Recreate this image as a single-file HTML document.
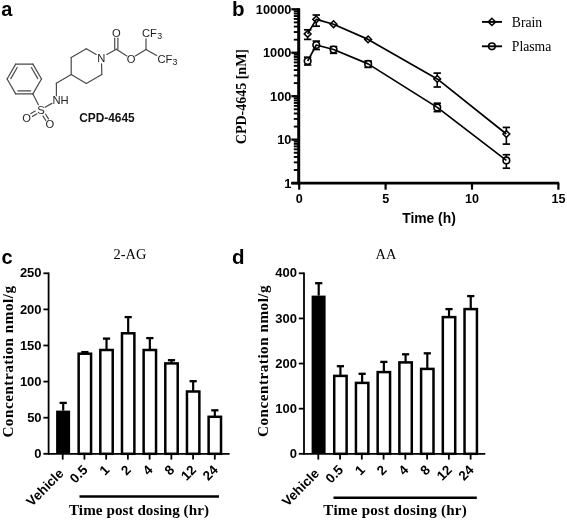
<!DOCTYPE html>
<html lang="en">
<head>
<meta charset="utf-8">
<title>CPD-4645 figure</title>
<style>
html,body{margin:0;padding:0;background:#fff;}
body{width:567px;height:521px;overflow:hidden;}
svg{display:block;filter:blur(0.45px);}
.sa{font-family:"Liberation Sans",Arial,sans-serif;}
.se{font-family:"Liberation Serif","Times New Roman",serif;}
.b{font-weight:bold;}
.r{font-weight:normal;}
</style>
</head>
<body>
<svg width="567" height="521" viewBox="0 0 567 521">
<rect x="0" y="0" width="567" height="521" fill="#fff"/>

<text x="1.2" y="16.4" class="sa b" font-size="20" text-anchor="start" fill="#000" >a</text>
<text x="232.0" y="16.0" class="sa b" font-size="20.5" text-anchor="start" fill="#000" >b</text>
<text x="1.6" y="264.0" class="sa b" font-size="20" text-anchor="start" fill="#000" >c</text>
<text x="232.0" y="264.0" class="sa b" font-size="20.5" text-anchor="start" fill="#000" >d</text>
<g id="panel-a">
<line x1="7.10" y1="79.00" x2="15.70" y2="64.10" stroke="#4a4a4a" stroke-width="1.2" stroke-linecap="round"/>
<line x1="15.70" y1="64.10" x2="32.90" y2="64.10" stroke="#4a4a4a" stroke-width="1.2" stroke-linecap="round"/>
<line x1="32.90" y1="64.10" x2="41.50" y2="79.00" stroke="#4a4a4a" stroke-width="1.2" stroke-linecap="round"/>
<line x1="41.50" y1="79.00" x2="32.90" y2="93.90" stroke="#4a4a4a" stroke-width="1.2" stroke-linecap="round"/>
<line x1="32.90" y1="93.90" x2="15.70" y2="93.90" stroke="#4a4a4a" stroke-width="1.2" stroke-linecap="round"/>
<line x1="15.70" y1="93.90" x2="7.10" y2="79.00" stroke="#4a4a4a" stroke-width="1.2" stroke-linecap="round"/>
<line x1="10.80" y1="78.59" x2="17.20" y2="67.51" stroke="#4a4a4a" stroke-width="1.2" stroke-linecap="round"/>
<line x1="31.40" y1="67.51" x2="37.80" y2="78.59" stroke="#4a4a4a" stroke-width="1.2" stroke-linecap="round"/>
<line x1="30.70" y1="90.90" x2="17.90" y2="90.90" stroke="#4a4a4a" stroke-width="1.2" stroke-linecap="round"/>
<line x1="32.90" y1="93.90" x2="38.40" y2="104.70" stroke="#4a4a4a" stroke-width="1.2" stroke-linecap="round"/>
<line x1="45.07" y1="107.23" x2="51.88" y2="103.37" stroke="#4a4a4a" stroke-width="1.2" stroke-linecap="round"/>
<line x1="36.87" y1="113.80" x2="32.49" y2="116.36" stroke="#4a4a4a" stroke-width="1.2" stroke-linecap="round"/>
<line x1="35.26" y1="111.04" x2="30.88" y2="113.59" stroke="#4a4a4a" stroke-width="1.2" stroke-linecap="round"/>
<line x1="45.62" y1="114.21" x2="48.48" y2="118.85" stroke="#4a4a4a" stroke-width="1.2" stroke-linecap="round"/>
<line x1="42.90" y1="115.89" x2="45.76" y2="120.53" stroke="#4a4a4a" stroke-width="1.2" stroke-linecap="round"/>
<line x1="56.40" y1="95.80" x2="56.40" y2="83.20" stroke="#4a4a4a" stroke-width="1.2" stroke-linecap="round"/>
<line x1="56.40" y1="83.20" x2="71.20" y2="74.60" stroke="#4a4a4a" stroke-width="1.2" stroke-linecap="round"/>
<line x1="71.20" y1="74.60" x2="71.20" y2="57.50" stroke="#4a4a4a" stroke-width="1.2" stroke-linecap="round"/>
<line x1="71.20" y1="57.50" x2="86.30" y2="48.70" stroke="#4a4a4a" stroke-width="1.2" stroke-linecap="round"/>
<line x1="86.30" y1="48.70" x2="96.22" y2="54.48" stroke="#4a4a4a" stroke-width="1.2" stroke-linecap="round"/>
<line x1="101.55" y1="63.90" x2="101.80" y2="74.60" stroke="#4a4a4a" stroke-width="1.2" stroke-linecap="round"/>
<line x1="101.80" y1="74.60" x2="86.30" y2="83.40" stroke="#4a4a4a" stroke-width="1.2" stroke-linecap="round"/>
<line x1="86.30" y1="83.40" x2="71.20" y2="74.60" stroke="#4a4a4a" stroke-width="1.2" stroke-linecap="round"/>
<line x1="106.82" y1="54.48" x2="116.30" y2="49.20" stroke="#4a4a4a" stroke-width="1.2" stroke-linecap="round"/>
<line x1="114.70" y1="49.20" x2="114.70" y2="38.20" stroke="#4a4a4a" stroke-width="1.2" stroke-linecap="round"/>
<line x1="117.90" y1="49.20" x2="117.90" y2="38.20" stroke="#4a4a4a" stroke-width="1.2" stroke-linecap="round"/>
<line x1="116.30" y1="49.20" x2="126.88" y2="55.92" stroke="#4a4a4a" stroke-width="1.2" stroke-linecap="round"/>
<line x1="135.35" y1="55.97" x2="146.00" y2="49.40" stroke="#4a4a4a" stroke-width="1.2" stroke-linecap="round"/>
<line x1="146.00" y1="49.40" x2="146.00" y2="38.80" stroke="#4a4a4a" stroke-width="1.2" stroke-linecap="round"/>
<line x1="146.00" y1="49.40" x2="156.60" y2="55.50" stroke="#4a4a4a" stroke-width="1.2" stroke-linecap="round"/>
<text x="40.9" y="113.6" class="sa r" font-size="11.2" text-anchor="middle" fill="#222" >S</text>
<text x="52.5" y="104.39999999999999" class="sa r" font-size="11.2" text-anchor="start" fill="#222" >NH</text>
<text x="26.5" y="122.0" class="sa r" font-size="11.2" text-anchor="middle" fill="#222" >O</text>
<text x="49.9" y="128.2" class="sa r" font-size="11.2" text-anchor="middle" fill="#222" >O</text>
<text x="101.4" y="61.5" class="sa r" font-size="11.2" text-anchor="middle" fill="#222" >N</text>
<text x="116.3" y="36.6" class="sa r" font-size="11.2" text-anchor="middle" fill="#222" >O</text>
<text x="131.1" y="62.6" class="sa r" font-size="11.2" text-anchor="middle" fill="#222" >O</text>
<text x="142.0" y="37.1" class="sa r" font-size="11.2" fill="#222">CF<tspan font-size="8.8" dx="0.3" dy="2.2">3</tspan></text>
<text x="157.4" y="62.5" class="sa r" font-size="11.2" fill="#222">CF<tspan font-size="8.8" dx="0.3" dy="2.2">3</tspan></text>
<text x="79.2" y="122.4" class="sa b" font-size="11.9" text-anchor="start" fill="#111" >CPD-4645</text>
</g>
<g id="panel-b">
<line x1="298.70" y1="8.20" x2="298.70" y2="184.45" stroke="#000" stroke-width="3.0" stroke-linecap="butt"/>
<line x1="291.30" y1="183.10" x2="559.20" y2="183.10" stroke="#000" stroke-width="2.7" stroke-linecap="butt"/>
<line x1="291.30" y1="183.10" x2="299.00" y2="183.10" stroke="#000" stroke-width="2.3" stroke-linecap="butt"/>
<text x="291.4" y="187.5" class="sa b" font-size="12.8" text-anchor="end" fill="#000" >1</text>
<line x1="293.80" y1="170.02" x2="299.00" y2="170.02" stroke="#000" stroke-width="1.9" stroke-linecap="butt"/>
<line x1="293.80" y1="162.37" x2="299.00" y2="162.37" stroke="#000" stroke-width="1.9" stroke-linecap="butt"/>
<line x1="293.80" y1="156.94" x2="299.00" y2="156.94" stroke="#000" stroke-width="1.9" stroke-linecap="butt"/>
<line x1="293.80" y1="152.73" x2="299.00" y2="152.73" stroke="#000" stroke-width="1.9" stroke-linecap="butt"/>
<line x1="293.80" y1="149.29" x2="299.00" y2="149.29" stroke="#000" stroke-width="1.9" stroke-linecap="butt"/>
<line x1="293.80" y1="146.38" x2="299.00" y2="146.38" stroke="#000" stroke-width="1.9" stroke-linecap="butt"/>
<line x1="293.80" y1="143.86" x2="299.00" y2="143.86" stroke="#000" stroke-width="1.9" stroke-linecap="butt"/>
<line x1="293.80" y1="141.64" x2="299.00" y2="141.64" stroke="#000" stroke-width="1.9" stroke-linecap="butt"/>
<line x1="291.30" y1="139.65" x2="299.00" y2="139.65" stroke="#000" stroke-width="2.3" stroke-linecap="butt"/>
<text x="291.4" y="144.04999999999998" class="sa b" font-size="12.8" text-anchor="end" fill="#000" >10</text>
<line x1="293.80" y1="126.57" x2="299.00" y2="126.57" stroke="#000" stroke-width="1.9" stroke-linecap="butt"/>
<line x1="293.80" y1="118.92" x2="299.00" y2="118.92" stroke="#000" stroke-width="1.9" stroke-linecap="butt"/>
<line x1="293.80" y1="113.49" x2="299.00" y2="113.49" stroke="#000" stroke-width="1.9" stroke-linecap="butt"/>
<line x1="293.80" y1="109.28" x2="299.00" y2="109.28" stroke="#000" stroke-width="1.9" stroke-linecap="butt"/>
<line x1="293.80" y1="105.84" x2="299.00" y2="105.84" stroke="#000" stroke-width="1.9" stroke-linecap="butt"/>
<line x1="293.80" y1="102.93" x2="299.00" y2="102.93" stroke="#000" stroke-width="1.9" stroke-linecap="butt"/>
<line x1="293.80" y1="100.41" x2="299.00" y2="100.41" stroke="#000" stroke-width="1.9" stroke-linecap="butt"/>
<line x1="293.80" y1="98.19" x2="299.00" y2="98.19" stroke="#000" stroke-width="1.9" stroke-linecap="butt"/>
<line x1="291.30" y1="96.20" x2="299.00" y2="96.20" stroke="#000" stroke-width="2.3" stroke-linecap="butt"/>
<text x="291.4" y="100.6" class="sa b" font-size="12.8" text-anchor="end" fill="#000" >100</text>
<line x1="293.80" y1="83.12" x2="299.00" y2="83.12" stroke="#000" stroke-width="1.9" stroke-linecap="butt"/>
<line x1="293.80" y1="75.47" x2="299.00" y2="75.47" stroke="#000" stroke-width="1.9" stroke-linecap="butt"/>
<line x1="293.80" y1="70.04" x2="299.00" y2="70.04" stroke="#000" stroke-width="1.9" stroke-linecap="butt"/>
<line x1="293.80" y1="65.83" x2="299.00" y2="65.83" stroke="#000" stroke-width="1.9" stroke-linecap="butt"/>
<line x1="293.80" y1="62.39" x2="299.00" y2="62.39" stroke="#000" stroke-width="1.9" stroke-linecap="butt"/>
<line x1="293.80" y1="59.48" x2="299.00" y2="59.48" stroke="#000" stroke-width="1.9" stroke-linecap="butt"/>
<line x1="293.80" y1="56.96" x2="299.00" y2="56.96" stroke="#000" stroke-width="1.9" stroke-linecap="butt"/>
<line x1="293.80" y1="54.74" x2="299.00" y2="54.74" stroke="#000" stroke-width="1.9" stroke-linecap="butt"/>
<line x1="291.30" y1="52.75" x2="299.00" y2="52.75" stroke="#000" stroke-width="2.3" stroke-linecap="butt"/>
<text x="291.4" y="57.14999999999997" class="sa b" font-size="12.8" text-anchor="end" fill="#000" >1000</text>
<line x1="293.80" y1="39.67" x2="299.00" y2="39.67" stroke="#000" stroke-width="1.9" stroke-linecap="butt"/>
<line x1="293.80" y1="32.02" x2="299.00" y2="32.02" stroke="#000" stroke-width="1.9" stroke-linecap="butt"/>
<line x1="293.80" y1="26.59" x2="299.00" y2="26.59" stroke="#000" stroke-width="1.9" stroke-linecap="butt"/>
<line x1="293.80" y1="22.38" x2="299.00" y2="22.38" stroke="#000" stroke-width="1.9" stroke-linecap="butt"/>
<line x1="293.80" y1="18.94" x2="299.00" y2="18.94" stroke="#000" stroke-width="1.9" stroke-linecap="butt"/>
<line x1="293.80" y1="16.03" x2="299.00" y2="16.03" stroke="#000" stroke-width="1.9" stroke-linecap="butt"/>
<line x1="293.80" y1="13.51" x2="299.00" y2="13.51" stroke="#000" stroke-width="1.9" stroke-linecap="butt"/>
<line x1="293.80" y1="11.29" x2="299.00" y2="11.29" stroke="#000" stroke-width="1.9" stroke-linecap="butt"/>
<line x1="291.30" y1="9.30" x2="299.00" y2="9.30" stroke="#000" stroke-width="2.3" stroke-linecap="butt"/>
<text x="291.4" y="14.099999999999984" class="sa b" font-size="12.8" text-anchor="end" fill="#000" >10000</text>
<line x1="299.20" y1="183.10" x2="299.20" y2="189.70" stroke="#000" stroke-width="2.2" stroke-linecap="butt"/>
<text x="299.3" y="202.7" class="sa b" font-size="12.6" text-anchor="middle" fill="#000" >0</text>
<line x1="385.60" y1="183.10" x2="385.60" y2="189.70" stroke="#000" stroke-width="2.2" stroke-linecap="butt"/>
<text x="385.7" y="202.7" class="sa b" font-size="12.6" text-anchor="middle" fill="#000" >5</text>
<line x1="472.00" y1="183.10" x2="472.00" y2="189.70" stroke="#000" stroke-width="2.2" stroke-linecap="butt"/>
<text x="472.1" y="202.7" class="sa b" font-size="12.6" text-anchor="middle" fill="#000" >10</text>
<line x1="558.40" y1="183.10" x2="558.40" y2="189.70" stroke="#000" stroke-width="2.2" stroke-linecap="butt"/>
<text x="558.5" y="202.7" class="sa b" font-size="12.6" text-anchor="middle" fill="#000" >15</text>
<text x="429.0" y="223.1" class="sa b" font-size="13.85" text-anchor="middle" fill="#000" >Time (h)</text>
<text class="se b" font-size="14" text-anchor="middle" transform="translate(245.9,96.6) rotate(-90)">CPD-4645 [nM]</text>
<line x1="307.64" y1="29.80" x2="307.64" y2="39.40" stroke="#000" stroke-width="1.6" stroke-linecap="butt"/>
<line x1="303.94" y1="29.80" x2="311.34" y2="29.80" stroke="#000" stroke-width="1.7" stroke-linecap="butt"/>
<line x1="303.94" y1="39.40" x2="311.34" y2="39.40" stroke="#000" stroke-width="1.7" stroke-linecap="butt"/>
<polygon points="304.24,33.90 307.64,30.50 311.04,33.90 307.64,37.30" fill="#fff" stroke="#000" stroke-width="1.5"/>
<line x1="316.28" y1="15.00" x2="316.28" y2="26.20" stroke="#000" stroke-width="1.6" stroke-linecap="butt"/>
<line x1="312.58" y1="15.00" x2="319.98" y2="15.00" stroke="#000" stroke-width="1.7" stroke-linecap="butt"/>
<line x1="312.58" y1="26.20" x2="319.98" y2="26.20" stroke="#000" stroke-width="1.7" stroke-linecap="butt"/>
<polygon points="312.88,19.40 316.28,16.00 319.68,19.40 316.28,22.80" fill="#fff" stroke="#000" stroke-width="1.5"/>
<polygon points="330.16,24.20 333.56,20.80 336.96,24.20 333.56,27.60" fill="#fff" stroke="#000" stroke-width="1.5"/>
<polygon points="364.72,39.40 368.12,36.00 371.52,39.40 368.12,42.80" fill="#fff" stroke="#000" stroke-width="1.5"/>
<line x1="437.24" y1="73.10" x2="437.24" y2="87.00" stroke="#000" stroke-width="1.6" stroke-linecap="butt"/>
<line x1="433.54" y1="73.10" x2="440.94" y2="73.10" stroke="#000" stroke-width="1.7" stroke-linecap="butt"/>
<line x1="433.54" y1="87.00" x2="440.94" y2="87.00" stroke="#000" stroke-width="1.7" stroke-linecap="butt"/>
<polygon points="433.84,78.90 437.24,75.50 440.64,78.90 437.24,82.30" fill="#fff" stroke="#000" stroke-width="1.5"/>
<line x1="506.36" y1="127.40" x2="506.36" y2="144.10" stroke="#000" stroke-width="1.6" stroke-linecap="butt"/>
<line x1="502.66" y1="127.40" x2="510.06" y2="127.40" stroke="#000" stroke-width="1.7" stroke-linecap="butt"/>
<line x1="502.66" y1="144.10" x2="510.06" y2="144.10" stroke="#000" stroke-width="1.7" stroke-linecap="butt"/>
<polygon points="502.96,134.00 506.36,130.60 509.76,134.00 506.36,137.40" fill="#fff" stroke="#000" stroke-width="1.5"/>
<polyline points="307.64,33.90 316.28,19.40 333.56,24.20 368.12,39.40 437.24,78.90 506.36,134.00" fill="none" stroke="#000" stroke-width="1.7" stroke-linejoin="round"/>
<line x1="307.64" y1="57.20" x2="307.64" y2="65.00" stroke="#000" stroke-width="1.6" stroke-linecap="butt"/>
<line x1="303.94" y1="57.20" x2="311.34" y2="57.20" stroke="#000" stroke-width="1.7" stroke-linecap="butt"/>
<line x1="303.94" y1="65.00" x2="311.34" y2="65.00" stroke="#000" stroke-width="1.7" stroke-linecap="butt"/>
<circle cx="307.64" cy="61.10" r="3.3" fill="#fff" stroke="#000" stroke-width="1.6"/>
<line x1="316.28" y1="41.10" x2="316.28" y2="49.50" stroke="#000" stroke-width="1.6" stroke-linecap="butt"/>
<line x1="312.58" y1="41.10" x2="319.98" y2="41.10" stroke="#000" stroke-width="1.7" stroke-linecap="butt"/>
<line x1="312.58" y1="49.50" x2="319.98" y2="49.50" stroke="#000" stroke-width="1.7" stroke-linecap="butt"/>
<circle cx="316.28" cy="45.00" r="3.3" fill="#fff" stroke="#000" stroke-width="1.6"/>
<line x1="333.56" y1="46.60" x2="333.56" y2="53.30" stroke="#000" stroke-width="1.6" stroke-linecap="butt"/>
<line x1="329.86" y1="46.60" x2="337.26" y2="46.60" stroke="#000" stroke-width="1.7" stroke-linecap="butt"/>
<line x1="329.86" y1="53.30" x2="337.26" y2="53.30" stroke="#000" stroke-width="1.7" stroke-linecap="butt"/>
<circle cx="333.56" cy="49.50" r="3.3" fill="#fff" stroke="#000" stroke-width="1.6"/>
<line x1="368.12" y1="61.00" x2="368.12" y2="67.40" stroke="#000" stroke-width="1.6" stroke-linecap="butt"/>
<line x1="364.42" y1="61.00" x2="371.82" y2="61.00" stroke="#000" stroke-width="1.7" stroke-linecap="butt"/>
<line x1="364.42" y1="67.40" x2="371.82" y2="67.40" stroke="#000" stroke-width="1.7" stroke-linecap="butt"/>
<circle cx="368.12" cy="63.90" r="3.3" fill="#fff" stroke="#000" stroke-width="1.6"/>
<line x1="437.24" y1="103.20" x2="437.24" y2="111.60" stroke="#000" stroke-width="1.6" stroke-linecap="butt"/>
<line x1="433.54" y1="103.20" x2="440.94" y2="103.20" stroke="#000" stroke-width="1.7" stroke-linecap="butt"/>
<line x1="433.54" y1="111.60" x2="440.94" y2="111.60" stroke="#000" stroke-width="1.7" stroke-linecap="butt"/>
<circle cx="437.24" cy="107.40" r="3.3" fill="#fff" stroke="#000" stroke-width="1.6"/>
<line x1="506.36" y1="154.70" x2="506.36" y2="168.20" stroke="#000" stroke-width="1.6" stroke-linecap="butt"/>
<line x1="502.66" y1="154.70" x2="510.06" y2="154.70" stroke="#000" stroke-width="1.7" stroke-linecap="butt"/>
<line x1="502.66" y1="168.20" x2="510.06" y2="168.20" stroke="#000" stroke-width="1.7" stroke-linecap="butt"/>
<circle cx="506.36" cy="160.40" r="3.3" fill="#fff" stroke="#000" stroke-width="1.6"/>
<polyline points="307.64,61.10 316.28,45.00 333.56,49.50 368.12,63.90 437.24,107.40 506.36,160.40" fill="none" stroke="#000" stroke-width="1.7" stroke-linejoin="round"/>
<polygon points="488.30,21.90 491.90,18.30 495.50,21.90 491.90,25.50" fill="#fff" stroke="#000" stroke-width="1.5"/>
<line x1="482.00" y1="21.90" x2="502.00" y2="21.90" stroke="#000" stroke-width="1.9" stroke-linecap="butt"/>
<circle cx="491.90" cy="46.30" r="3.3" fill="#fff" stroke="#000" stroke-width="1.6"/>
<line x1="482.00" y1="46.30" x2="502.00" y2="46.30" stroke="#000" stroke-width="1.9" stroke-linecap="butt"/>
<text x="511.8" y="27.2" class="se r" font-size="13.7" text-anchor="start" fill="#000" >Brain</text>
<text x="511.8" y="51.2" class="se r" font-size="13.7" text-anchor="start" fill="#000" >Plasma</text>
</g>
<g id="panel-c">
<line x1="63.20" y1="402.90" x2="63.20" y2="410.60" stroke="#000" stroke-width="2.2" stroke-linecap="butt"/>
<line x1="59.60" y1="402.90" x2="66.80" y2="402.90" stroke="#000" stroke-width="2.3" stroke-linecap="butt"/>
<rect x="56.10" y="410.60" width="14.0" height="43.20" fill="#000"/>
<line x1="84.86" y1="352.10" x2="84.86" y2="353.70" stroke="#000" stroke-width="2.2" stroke-linecap="butt"/>
<line x1="81.26" y1="352.10" x2="88.46" y2="352.10" stroke="#000" stroke-width="2.3" stroke-linecap="butt"/>
<rect x="78.66" y="353.70" width="12.40" height="100.10" fill="#fff" stroke="#000" stroke-width="2.5"/>
<line x1="106.52" y1="338.60" x2="106.52" y2="350.00" stroke="#000" stroke-width="2.2" stroke-linecap="butt"/>
<line x1="102.92" y1="338.60" x2="110.12" y2="338.60" stroke="#000" stroke-width="2.3" stroke-linecap="butt"/>
<rect x="100.32" y="350.00" width="12.40" height="103.80" fill="#fff" stroke="#000" stroke-width="2.5"/>
<line x1="128.18" y1="317.10" x2="128.18" y2="333.30" stroke="#000" stroke-width="2.2" stroke-linecap="butt"/>
<line x1="124.58" y1="317.10" x2="131.78" y2="317.10" stroke="#000" stroke-width="2.3" stroke-linecap="butt"/>
<rect x="121.98" y="333.30" width="12.40" height="120.50" fill="#fff" stroke="#000" stroke-width="2.5"/>
<line x1="149.84" y1="338.10" x2="149.84" y2="350.00" stroke="#000" stroke-width="2.2" stroke-linecap="butt"/>
<line x1="146.24" y1="338.10" x2="153.44" y2="338.10" stroke="#000" stroke-width="2.3" stroke-linecap="butt"/>
<rect x="143.64" y="350.00" width="12.40" height="103.80" fill="#fff" stroke="#000" stroke-width="2.5"/>
<line x1="171.50" y1="360.20" x2="171.50" y2="363.40" stroke="#000" stroke-width="2.2" stroke-linecap="butt"/>
<line x1="167.90" y1="360.20" x2="175.10" y2="360.20" stroke="#000" stroke-width="2.3" stroke-linecap="butt"/>
<rect x="165.30" y="363.40" width="12.40" height="90.40" fill="#fff" stroke="#000" stroke-width="2.5"/>
<line x1="193.16" y1="381.20" x2="193.16" y2="391.50" stroke="#000" stroke-width="2.2" stroke-linecap="butt"/>
<line x1="189.56" y1="381.20" x2="196.76" y2="381.20" stroke="#000" stroke-width="2.3" stroke-linecap="butt"/>
<rect x="186.96" y="391.50" width="12.40" height="62.30" fill="#fff" stroke="#000" stroke-width="2.5"/>
<line x1="214.82" y1="410.30" x2="214.82" y2="416.80" stroke="#000" stroke-width="2.2" stroke-linecap="butt"/>
<line x1="211.22" y1="410.30" x2="218.42" y2="410.30" stroke="#000" stroke-width="2.3" stroke-linecap="butt"/>
<rect x="208.62" y="416.80" width="12.40" height="37.00" fill="#fff" stroke="#000" stroke-width="2.5"/>
<line x1="48.60" y1="272.50" x2="48.60" y2="454.70" stroke="#000" stroke-width="1.8" stroke-linecap="butt"/>
<line x1="48.60" y1="453.80" x2="229.60" y2="453.80" stroke="#000" stroke-width="1.8" stroke-linecap="butt"/>
<line x1="43.40" y1="453.80" x2="48.60" y2="453.80" stroke="#000" stroke-width="1.8" stroke-linecap="butt"/>
<text x="41.6" y="457.90000000000003" class="sa b" font-size="13.0" text-anchor="end" fill="#000" >0</text>
<line x1="43.40" y1="417.70" x2="48.60" y2="417.70" stroke="#000" stroke-width="1.8" stroke-linecap="butt"/>
<text x="41.6" y="421.8" class="sa b" font-size="13.0" text-anchor="end" fill="#000" >50</text>
<line x1="43.40" y1="381.60" x2="48.60" y2="381.60" stroke="#000" stroke-width="1.8" stroke-linecap="butt"/>
<text x="41.6" y="385.70000000000005" class="sa b" font-size="13.0" text-anchor="end" fill="#000" >100</text>
<line x1="43.40" y1="345.50" x2="48.60" y2="345.50" stroke="#000" stroke-width="1.8" stroke-linecap="butt"/>
<text x="41.6" y="349.6" class="sa b" font-size="13.0" text-anchor="end" fill="#000" >150</text>
<line x1="43.40" y1="309.40" x2="48.60" y2="309.40" stroke="#000" stroke-width="1.8" stroke-linecap="butt"/>
<text x="41.6" y="313.5" class="sa b" font-size="13.0" text-anchor="end" fill="#000" >200</text>
<line x1="43.40" y1="273.30" x2="48.60" y2="273.30" stroke="#000" stroke-width="1.8" stroke-linecap="butt"/>
<text x="41.6" y="277.40000000000003" class="sa b" font-size="13.0" text-anchor="end" fill="#000" >250</text>
<line x1="62.70" y1="453.80" x2="62.70" y2="459.60" stroke="#000" stroke-width="1.8" stroke-linecap="butt"/>
<text class="sa b" font-size="13.4" text-anchor="end" transform="translate(64.50,474.30) rotate(-45)">Vehicle</text>
<line x1="84.43" y1="453.80" x2="84.43" y2="459.60" stroke="#000" stroke-width="1.8" stroke-linecap="butt"/>
<text class="sa b" font-size="13.4" text-anchor="end" transform="translate(88.43,470.80) rotate(-45)">0.5</text>
<line x1="106.16" y1="453.80" x2="106.16" y2="459.60" stroke="#000" stroke-width="1.8" stroke-linecap="butt"/>
<text class="sa b" font-size="13.4" text-anchor="end" transform="translate(110.16,470.80) rotate(-45)">1</text>
<line x1="127.89" y1="453.80" x2="127.89" y2="459.60" stroke="#000" stroke-width="1.8" stroke-linecap="butt"/>
<text class="sa b" font-size="13.4" text-anchor="end" transform="translate(131.89,470.80) rotate(-45)">2</text>
<line x1="149.62" y1="453.80" x2="149.62" y2="459.60" stroke="#000" stroke-width="1.8" stroke-linecap="butt"/>
<text class="sa b" font-size="13.4" text-anchor="end" transform="translate(153.62,470.80) rotate(-45)">4</text>
<line x1="171.35" y1="453.80" x2="171.35" y2="459.60" stroke="#000" stroke-width="1.8" stroke-linecap="butt"/>
<text class="sa b" font-size="13.4" text-anchor="end" transform="translate(175.35,470.80) rotate(-45)">8</text>
<line x1="193.08" y1="453.80" x2="193.08" y2="459.60" stroke="#000" stroke-width="1.8" stroke-linecap="butt"/>
<text class="sa b" font-size="13.4" text-anchor="end" transform="translate(197.08,470.80) rotate(-45)">12</text>
<line x1="214.81" y1="453.80" x2="214.81" y2="459.60" stroke="#000" stroke-width="1.8" stroke-linecap="butt"/>
<text class="sa b" font-size="13.4" text-anchor="end" transform="translate(218.81,470.80) rotate(-45)">24</text>
<text x="129.9" y="259.2" class="se r" font-size="14.4" text-anchor="middle" fill="#000" >2-AG</text>
<line x1="79.50" y1="496.50" x2="219.00" y2="496.50" stroke="#000" stroke-width="2.4" stroke-linecap="butt"/>
<text x="69.0" y="514.7" class="se b" font-size="15.1" text-anchor="start" fill="#000" textLength="140.0" lengthAdjust="spacing">Time post dosing (hr)</text>
<text class="se b" font-size="15.2" letter-spacing="0.5" text-anchor="start" transform="translate(13.3,437.6) rotate(-90)">Concentration nmol/g</text>
</g>
<g id="panel-d">
<line x1="318.70" y1="283.20" x2="318.70" y2="295.60" stroke="#000" stroke-width="2.2" stroke-linecap="butt"/>
<line x1="315.10" y1="283.20" x2="322.30" y2="283.20" stroke="#000" stroke-width="2.3" stroke-linecap="butt"/>
<rect x="311.60" y="295.60" width="14.0" height="158.20" fill="#000"/>
<line x1="340.42" y1="366.20" x2="340.42" y2="375.90" stroke="#000" stroke-width="2.2" stroke-linecap="butt"/>
<line x1="336.82" y1="366.20" x2="344.02" y2="366.20" stroke="#000" stroke-width="2.3" stroke-linecap="butt"/>
<rect x="334.22" y="375.90" width="12.40" height="77.90" fill="#fff" stroke="#000" stroke-width="2.5"/>
<line x1="362.14" y1="373.80" x2="362.14" y2="382.90" stroke="#000" stroke-width="2.2" stroke-linecap="butt"/>
<line x1="358.54" y1="373.80" x2="365.74" y2="373.80" stroke="#000" stroke-width="2.3" stroke-linecap="butt"/>
<rect x="355.94" y="382.90" width="12.40" height="70.90" fill="#fff" stroke="#000" stroke-width="2.5"/>
<line x1="383.86" y1="361.90" x2="383.86" y2="372.10" stroke="#000" stroke-width="2.2" stroke-linecap="butt"/>
<line x1="380.26" y1="361.90" x2="387.46" y2="361.90" stroke="#000" stroke-width="2.3" stroke-linecap="butt"/>
<rect x="377.66" y="372.10" width="12.40" height="81.70" fill="#fff" stroke="#000" stroke-width="2.5"/>
<line x1="405.58" y1="354.30" x2="405.58" y2="362.40" stroke="#000" stroke-width="2.2" stroke-linecap="butt"/>
<line x1="401.98" y1="354.30" x2="409.18" y2="354.30" stroke="#000" stroke-width="2.3" stroke-linecap="butt"/>
<rect x="399.38" y="362.40" width="12.40" height="91.40" fill="#fff" stroke="#000" stroke-width="2.5"/>
<line x1="427.30" y1="353.30" x2="427.30" y2="368.90" stroke="#000" stroke-width="2.2" stroke-linecap="butt"/>
<line x1="423.70" y1="353.30" x2="430.90" y2="353.30" stroke="#000" stroke-width="2.3" stroke-linecap="butt"/>
<rect x="421.10" y="368.90" width="12.40" height="84.90" fill="#fff" stroke="#000" stroke-width="2.5"/>
<line x1="449.02" y1="309.10" x2="449.02" y2="317.10" stroke="#000" stroke-width="2.2" stroke-linecap="butt"/>
<line x1="445.42" y1="309.10" x2="452.62" y2="309.10" stroke="#000" stroke-width="2.3" stroke-linecap="butt"/>
<rect x="442.82" y="317.10" width="12.40" height="136.70" fill="#fff" stroke="#000" stroke-width="2.5"/>
<line x1="470.74" y1="296.10" x2="470.74" y2="309.10" stroke="#000" stroke-width="2.2" stroke-linecap="butt"/>
<line x1="467.14" y1="296.10" x2="474.34" y2="296.10" stroke="#000" stroke-width="2.3" stroke-linecap="butt"/>
<rect x="464.54" y="309.10" width="12.40" height="144.70" fill="#fff" stroke="#000" stroke-width="2.5"/>
<line x1="304.00" y1="272.50" x2="304.00" y2="454.70" stroke="#000" stroke-width="1.8" stroke-linecap="butt"/>
<line x1="304.00" y1="453.80" x2="485.30" y2="453.80" stroke="#000" stroke-width="1.8" stroke-linecap="butt"/>
<line x1="298.80" y1="453.80" x2="304.00" y2="453.80" stroke="#000" stroke-width="1.8" stroke-linecap="butt"/>
<text x="297.0" y="457.90000000000003" class="sa b" font-size="13.0" text-anchor="end" fill="#000" >0</text>
<line x1="298.80" y1="408.68" x2="304.00" y2="408.68" stroke="#000" stroke-width="1.8" stroke-linecap="butt"/>
<text x="297.0" y="412.77500000000003" class="sa b" font-size="13.0" text-anchor="end" fill="#000" >100</text>
<line x1="298.80" y1="363.55" x2="304.00" y2="363.55" stroke="#000" stroke-width="1.8" stroke-linecap="butt"/>
<text x="297.0" y="367.65000000000003" class="sa b" font-size="13.0" text-anchor="end" fill="#000" >200</text>
<line x1="298.80" y1="318.43" x2="304.00" y2="318.43" stroke="#000" stroke-width="1.8" stroke-linecap="butt"/>
<text x="297.0" y="322.52500000000003" class="sa b" font-size="13.0" text-anchor="end" fill="#000" >300</text>
<line x1="298.80" y1="273.30" x2="304.00" y2="273.30" stroke="#000" stroke-width="1.8" stroke-linecap="butt"/>
<text x="297.0" y="277.40000000000003" class="sa b" font-size="13.0" text-anchor="end" fill="#000" >400</text>
<line x1="318.30" y1="453.80" x2="318.30" y2="459.60" stroke="#000" stroke-width="1.8" stroke-linecap="butt"/>
<text class="sa b" font-size="13.4" text-anchor="end" transform="translate(320.10,474.30) rotate(-45)">Vehicle</text>
<line x1="340.06" y1="453.80" x2="340.06" y2="459.60" stroke="#000" stroke-width="1.8" stroke-linecap="butt"/>
<text class="sa b" font-size="13.4" text-anchor="end" transform="translate(344.06,470.80) rotate(-45)">0.5</text>
<line x1="361.82" y1="453.80" x2="361.82" y2="459.60" stroke="#000" stroke-width="1.8" stroke-linecap="butt"/>
<text class="sa b" font-size="13.4" text-anchor="end" transform="translate(365.82,470.80) rotate(-45)">1</text>
<line x1="383.58" y1="453.80" x2="383.58" y2="459.60" stroke="#000" stroke-width="1.8" stroke-linecap="butt"/>
<text class="sa b" font-size="13.4" text-anchor="end" transform="translate(387.58,470.80) rotate(-45)">2</text>
<line x1="405.34" y1="453.80" x2="405.34" y2="459.60" stroke="#000" stroke-width="1.8" stroke-linecap="butt"/>
<text class="sa b" font-size="13.4" text-anchor="end" transform="translate(409.34,470.80) rotate(-45)">4</text>
<line x1="427.10" y1="453.80" x2="427.10" y2="459.60" stroke="#000" stroke-width="1.8" stroke-linecap="butt"/>
<text class="sa b" font-size="13.4" text-anchor="end" transform="translate(431.10,470.80) rotate(-45)">8</text>
<line x1="448.86" y1="453.80" x2="448.86" y2="459.60" stroke="#000" stroke-width="1.8" stroke-linecap="butt"/>
<text class="sa b" font-size="13.4" text-anchor="end" transform="translate(452.86,470.80) rotate(-45)">12</text>
<line x1="470.62" y1="453.80" x2="470.62" y2="459.60" stroke="#000" stroke-width="1.8" stroke-linecap="butt"/>
<text class="sa b" font-size="13.4" text-anchor="end" transform="translate(474.62,470.80) rotate(-45)">24</text>
<text x="385.9" y="259.2" class="se r" font-size="14.4" text-anchor="middle" fill="#000" >AA</text>
<line x1="333.50" y1="497.70" x2="476.80" y2="497.70" stroke="#000" stroke-width="2.4" stroke-linecap="butt"/>
<text x="323.35" y="514.7" class="se b" font-size="15.1" text-anchor="start" fill="#000" textLength="143.5" lengthAdjust="spacing">Time post dosing (hr)</text>
<text class="se b" font-size="15.2" letter-spacing="0.5" text-anchor="start" transform="translate(268.4,437.0) rotate(-90)">Concentration nmol/g</text>
</g>
</svg>
</body>
</html>
